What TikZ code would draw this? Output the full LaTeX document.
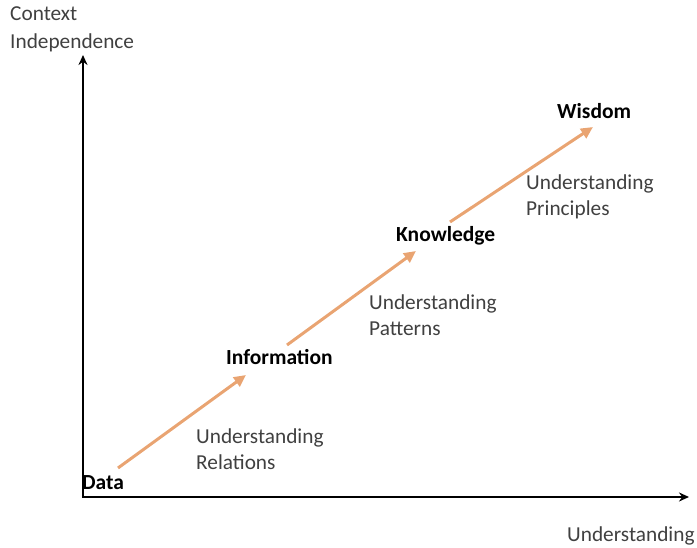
\documentclass[tikz,border=0pt]{standalone}
\usepackage{fontspec}
\setmainfont{Carlito}
\usetikzlibrary{arrows.meta}
\definecolor{stepline}{HTML}{E9A472}
\definecolor{softtext}{HTML}{404040}
\begin{document}
\begin{tikzpicture}[x=1pt,y=-1pt,
  axis/.style={line width=2.2pt, draw=black, -{Stealth[length=10pt,width=9pt]}},
  stage/.style={inner sep=0pt, anchor=west, font=\fontsize{21.5}{26}\selectfont\bfseries, text=black},
  note/.style={inner sep=0pt, anchor=west, align=left, font=\fontsize{21.3}{26}\selectfont, text=softtext},
  climb/.style={line width=3pt, draw=stepline, -{Triangle[length=12pt,width=11pt]}}]
  \useasboundingbox (0,0) rectangle (697,548);
  % axes
  \coordinate (origin) at (83,497);
  \coordinate (ytop) at (83,55);
  \coordinate (xend) at (689,497);
  \draw[axis] (origin) -- (ytop);
  \draw[axis] ([xshift=-1.1pt]origin) -- (xend);
  \node[note, align=left, font=\fontsize{21.3}{28}\selectfont] (ylab) at (10,29) {Context\\Independence};
  \node[note] (xlab) at (567,536) {Understanding};
  % stages
  \node[stage] (data) at (82,483) {Data};
  \node[stage] (info) at (226,357) {Information};
  \node[stage] (know) at (396,236) {Knowledge};
  \node[stage] (wis) at (557,111) {Wisdom};
  % transitions
  \node[note] (rel) at (196,449) {Understanding\\Relations};
  \node[note] (pat) at (369,315.5) {Understanding\\Patterns};
  \node[note] (pri) at (526,197) {Understanding\\Principles};
  \coordinate (a1) at (118,468);
  \coordinate (b1) at (246,375);
  \coordinate (a2) at (287,345);
  \coordinate (b2) at (416,251);
  \coordinate (a3) at (450,222);
  \coordinate (b3) at (593,127);
  \draw[climb] (a1) -- (b1);
  \draw[climb] (a2) -- (b2);
  \draw[climb] (a3) -- (b3);
\end{tikzpicture}
\end{document}
